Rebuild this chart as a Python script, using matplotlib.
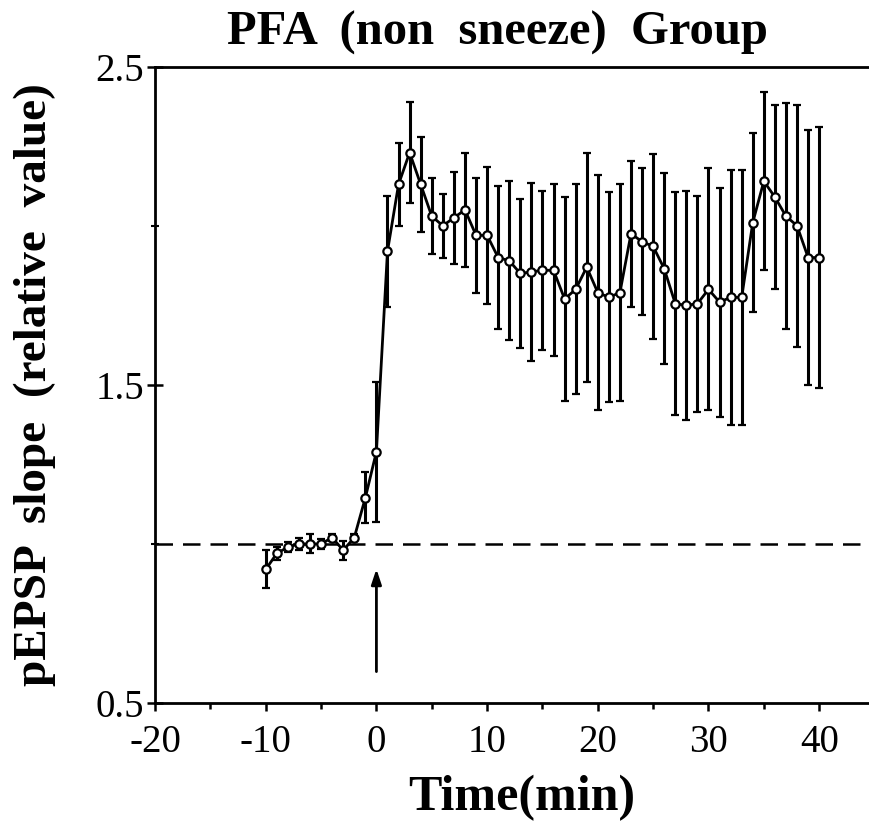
import numpy as np
import matplotlib.pyplot as plt
from matplotlib.ticker import MultipleLocator

plt.rcParams['font.family'] = ['Liberation Serif', 'DejaVu Serif']
plt.rcParams['axes.unicode_minus'] = False

# time points (min)
time = [-10, -9, -8, -7, -6, -5, -4, -3, -2, -1, 0,
        1, 2, 3, 4, 5, 6, 7, 8, 9, 10,
        11, 12, 13, 14, 15, 16, 17, 18, 19, 20,
        21, 22, 23, 24, 25, 26, 27, 28, 29, 30,
        31, 32, 33, 34, 35, 36, 37, 38, 39, 40]

# pEPSP slope (relative value)
slope = [0.92, 0.97, 0.99, 1.00, 1.00, 1.00, 1.02, 0.98, 1.02, 1.145, 1.29,
         1.92, 2.13, 2.23, 2.13, 2.03, 2.00, 2.025, 2.05, 1.97, 1.97,
         1.90, 1.89, 1.85, 1.855, 1.86, 1.86, 1.77, 1.80, 1.87, 1.79,
         1.775, 1.79, 1.975, 1.95, 1.935, 1.865, 1.755, 1.75, 1.755, 1.80,
         1.76, 1.775, 1.775, 2.01, 2.14, 2.09, 2.03, 2.00, 1.90, 1.90]

# standard error
sem = [0.06, 0.02, 0.015, 0.02, 0.03, 0.015, 0.01, 0.03, 0.01, 0.08, 0.22,
       0.175, 0.13, 0.16, 0.15, 0.12, 0.10, 0.145, 0.18, 0.18, 0.215,
       0.225, 0.25, 0.235, 0.28, 0.25, 0.27, 0.32, 0.33, 0.36, 0.37,
       0.33, 0.34, 0.23, 0.23, 0.29, 0.30, 0.35, 0.36, 0.34, 0.38,
       0.36, 0.40, 0.40, 0.28, 0.28, 0.29, 0.356, 0.38, 0.40, 0.41]

baseline = 1.0
stim_time = 0

fig = plt.figure(figsize=(8.69, 8.23), dpi=100)
ax = fig.add_axes([0.1784, 0.1458, 0.8216, 0.7732])

ax.axhline(baseline, color='black', lw=1.8, ls=(0, (7, 4)), zorder=1)

ax.errorbar(time, slope, yerr=sem, color='black', lw=2.0, elinewidth=2.2,
            capsize=3, capthick=2.0, marker='o', ms=6, mfc='white',
            mec='black', mew=1.6, zorder=3)

# stimulation arrow
ax.annotate('', xy=(stim_time, 0.93), xytext=(stim_time, 0.59),
            arrowprops=dict(arrowstyle='-|>,head_length=0.9,head_width=0.3',
                            color='black', lw=2))

ax.set_xlim(-20, 44.5)
ax.set_ylim(0.5, 2.5)
ax.xaxis.set_major_locator(MultipleLocator(10))
ax.xaxis.set_minor_locator(MultipleLocator(5))
ax.set_yticks([0.5, 1.5, 2.5])
ax.set_yticklabels(['0.5', '1.5', '2.5'])
ax.yaxis.set_minor_locator(MultipleLocator(0.5))

ax.tick_params(axis='x', which='major', direction='out', length=6, width=1.8,
               labelsize=28, pad=9)
ax.tick_params(axis='x', which='minor', direction='out', length=4, width=1.8)
ax.tick_params(axis='y', which='major', direction='inout', length=12, width=1.8,
               labelsize=28, pad=2)
ax.tick_params(axis='y', which='minor', direction='inout', length=6, width=1.5)

for side in ['left', 'bottom', 'top']:
    ax.spines[side].set_linewidth(2)
ax.spines['right'].set_visible(False)

ax.set_title('PFA  (non  sneeze)  Group', fontsize=35, fontweight='bold', pad=16,
             x=0.48)
ax.set_xlabel('Time(min)', fontsize=36, fontweight='bold', labelpad=10,
              x=0.513)
ax.set_ylabel('pEPSP  slope  (relative  value)', fontsize=34,
              fontweight='bold', labelpad=28)

fig.savefig('out.png', dpi=100)
